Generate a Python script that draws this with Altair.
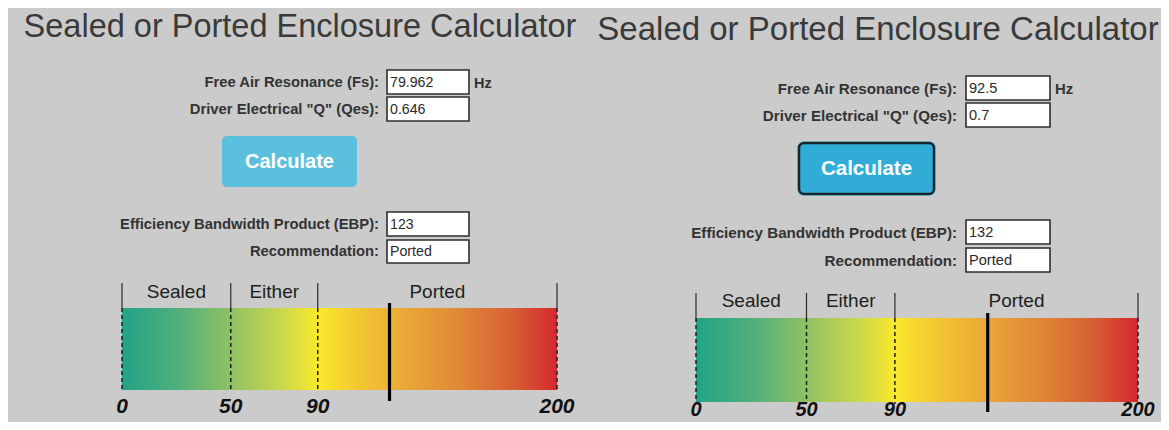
import altair as alt
import pandas as pd

# ---------------- data ----------------
TITLE = "Sealed or Ported Enclosure Calculator"
INPUT_LABELS = ["Free Air Resonance (Fs):", 'Driver Electrical "Q" (Qes):']
OUTPUT_LABELS = ["Efficiency Bandwidth Product (EBP):", "Recommendation:"]
UNIT_LABEL = "Hz"
BUTTON_LABEL = "Calculate"
FS_VALUES = ["79.962", "92.5"]
QES_VALUES = ["0.646", "0.7"]
EBP_VALUES = [123, 132]
RECOMMENDATIONS = ["Ported", "Ported"]
ZONE_NAMES = ["Sealed", "Either", "Ported"]
ZONE_BOUNDS = [0, 50, 90, 200]
TICK_LABELS = ["0", "50", "90", "200"]

# ---------------- layout (screenshot pixels) ----------------
W, H = 1153, 414
OFF = 8
FONT = "Liberation Sans"
BG = "#cbcbcb"

PANELS = [
    dict(title_x=300, title_y=27, title_size=32.5, label_right=379, box_x=(387, 469),
         boxes_in=[(70, 94), (97, 121)], boxes_out=[(212, 236), (240, 263)], font=14.8,
         button=(222, 357, 136, 187), button_size=20, focus=False,
         bar_x=(122, 557), bar_y=(308, 390), rule_top=283, marker=(303, 401),
         zone_y=292, tick_y=407, tick_size=21),
    dict(title_x=878, title_y=30, title_size=33, label_right=957, box_x=(966, 1050),
         boxes_in=[(76, 100), (103, 127)], boxes_out=[(220, 244), (248, 272)], font=15.2,
         button=(799, 934, 143, 194), button_size=20.5, focus=True,
         bar_x=(696, 1138), bar_y=(318, 402), rule_top=293, marker=(313, 412),
         zone_y=301, tick_y=410, tick_size=20),
]

GRADIENT = alt.LinearGradient(
    gradient="linear", x1=0, x2=1, y1=0, y2=0,
    stops=[
        alt.GradientStop(offset=0.0, color="#21a386"),
        alt.GradientStop(offset=0.13, color="#52af7c"),
        alt.GradientStop(offset=0.25, color="#8fc263"),
        alt.GradientStop(offset=0.37, color="#cbd84c"),
        alt.GradientStop(offset=0.45, color="#fbe82b"),
        alt.GradientStop(offset=0.55, color="#f2c532"),
        alt.GradientStop(offset=0.66, color="#e9a636"),
        alt.GradientStop(offset=0.78, color="#df8737"),
        alt.GradientStop(offset=0.9, color="#d75e33"),
        alt.GradientStop(offset=1.0, color="#d3282e"),
    ],
)


def px(v):
    return v - OFF


def PX(f):
    return alt.X(f"{f}:Q", scale=None, axis=None)


def PY(f):
    return alt.Y(f"{f}:Q", scale=None, axis=None)


layers = []
for i, P in enumerate(PANELS):
    # ---------- UI text ----------
    title_df = pd.DataFrame({"t": [TITLE], "x": [px(P["title_x"])], "y": [px(P["title_y"])]})
    layers.append(alt.Chart(title_df).mark_text(font=FONT, fontSize=P["title_size"], color="#3a3a3a",
                                                 align="center", baseline="middle")
                  .encode(x=PX("x"), y=PY("y"), text="t:N"))

    boxes = P["boxes_in"] + P["boxes_out"]
    labels = INPUT_LABELS + OUTPUT_LABELS
    values = [FS_VALUES[i], QES_VALUES[i], str(EBP_VALUES[i]), RECOMMENDATIONS[i]]
    lab_df = pd.DataFrame({"t": labels,
                           "x": [px(P["label_right"])] * 4,
                           "y": [px((a + b) / 2 + 0.5) for a, b in boxes]})
    layers.append(alt.Chart(lab_df).mark_text(font=FONT, fontSize=P["font"], fontWeight="bold",
                                               color="#333333", align="right", baseline="middle")
                  .encode(x=PX("x"), y=PY("y"), text="t:N"))

    box_df = pd.DataFrame({"x": [px(P["box_x"][0])] * 4, "x2": [px(P["box_x"][1])] * 4,
                           "y": [px(a) for a, b in boxes], "y2": [px(b) for a, b in boxes]})
    layers.append(alt.Chart(box_df).mark_rect(fill="white", stroke="#2e2e2e", strokeWidth=1.6)
                  .encode(x=PX("x"), x2="x2:Q", y=PY("y"), y2="y2:Q"))

    val_df = pd.DataFrame({"t": values, "x": [px(P["box_x"][0] + 3)] * 4,
                           "y": [px((a + b) / 2 + 0.5) for a, b in boxes]})
    layers.append(alt.Chart(val_df).mark_text(font=FONT, fontSize=P["font"] - 0.6, color="#2a2a2a",
                                               align="left", baseline="middle")
                  .encode(x=PX("x"), y=PY("y"), text="t:N"))

    hz_df = pd.DataFrame({"t": [UNIT_LABEL], "x": [px(P["box_x"][1] + 5)],
                          "y": [px((P["boxes_in"][0][0] + P["boxes_in"][0][1]) / 2 + 2)]})
    layers.append(alt.Chart(hz_df).mark_text(font=FONT, fontSize=P["font"] - 0.3, fontWeight="bold",
                                              color="#333333", align="left", baseline="middle")
                  .encode(x=PX("x"), y=PY("y"), text="t:N"))

    bx0, bx1, by0, by1 = P["button"]
    btn_df = pd.DataFrame({"x": [px(bx0)], "x2": [px(bx1)], "y": [px(by0)], "y2": [px(by1)]})
    if P["focus"]:
        glow_df = pd.DataFrame({"x": [px(bx0 - 2)], "x2": [px(bx1 + 2)], "y": [px(by0 - 2)], "y2": [px(by1 + 2)]})
        layers.append(alt.Chart(glow_df).mark_rect(fill="#8ccbe0", cornerRadius=6)
                      .encode(x=PX("x"), x2="x2:Q", y=PY("y"), y2="y2:Q"))
        layers.append(alt.Chart(btn_df).mark_rect(fill="#31acd6", stroke="#17252c", strokeWidth=2.5,
                                                   cornerRadius=5)
                      .encode(x=PX("x"), x2="x2:Q", y=PY("y"), y2="y2:Q"))
    else:
        layers.append(alt.Chart(btn_df).mark_rect(fill="#5bc0de", cornerRadius=5)
                      .encode(x=PX("x"), x2="x2:Q", y=PY("y"), y2="y2:Q"))
    bt_df = pd.DataFrame({"t": [BUTTON_LABEL], "x": [px((bx0 + bx1) / 2)], "y": [px((by0 + by1) / 2 + 0.5)]})
    layers.append(alt.Chart(bt_df).mark_text(font=FONT, fontSize=P["button_size"], fontWeight="bold",
                                              color="white", align="center", baseline="middle")
                  .encode(x=PX("x"), y=PY("y"), text="t:N"))

    # ---------- EBP bar (own linear scale per panel) ----------
    x0, x1 = P["bar_x"]
    k = (x1 - x0) / (ZONE_BOUNDS[-1] - ZONE_BOUNDS[0])
    d0 = ZONE_BOUNDS[0] - px(x0) / k
    dom = [d0, d0 + W / k]
    f = f"ebp{i}"

    def EX(field, dom=dom):
        return alt.X(f"{field}:Q", scale=alt.Scale(domain=dom, nice=False, zero=False), axis=None)

    bar_df = pd.DataFrame({f: [ZONE_BOUNDS[0]], "end": [ZONE_BOUNDS[-1]]})
    bnd_df = pd.DataFrame({f: ZONE_BOUNDS, "lab": TICK_LABELS})
    zone_df = pd.DataFrame({f: [(ZONE_BOUNDS[j] + ZONE_BOUNDS[j + 1]) / 2 for j in range(len(ZONE_NAMES))],
                            "name": ZONE_NAMES})
    mk_df = pd.DataFrame({f: [EBP_VALUES[i]]})
    t, b = P["bar_y"]

    g = alt.layer(
        alt.Chart(bar_df).mark_rect(fill=GRADIENT)
        .encode(x=EX(f), x2="end:Q", y=alt.value(px(t)), y2=alt.value(px(b))),
        alt.Chart(bnd_df).mark_rule(color="#2a2a2a", strokeWidth=1.2)
        .encode(x=EX(f), y=alt.value(px(P["rule_top"])), y2=alt.value(px(t))),
        alt.Chart(bnd_df).mark_rule(color="#1e1e1e", strokeWidth=1.5, strokeDash=[4, 3])
        .encode(x=EX(f), y=alt.value(px(t)), y2=alt.value(px(b + 2))),
        alt.Chart(zone_df).mark_text(font=FONT, fontSize=19, color="#1e1e1e", align="center", baseline="middle")
        .encode(x=EX(f), y=alt.value(px(P["zone_y"])), text="name:N"),
        alt.Chart(bnd_df).mark_text(font=FONT, fontSize=P["tick_size"], fontWeight="bold", fontStyle="italic",
                                    color="#111111", align="center", baseline="middle")
        .encode(x=EX(f), y=alt.value(px(P["tick_y"])), text="lab:N"),
        alt.Chart(mk_df).mark_rule(color="black", strokeWidth=3.2)
        .encode(x=EX(f), y=alt.value(px(P["marker"][0])), y2=alt.value(px(P["marker"][1]))),
    )
    layers.append(g)

chart = (
    alt.layer(*layers)
    .resolve_scale(x="independent")
    .properties(width=W, height=H, padding=0, autosize=alt.AutoSizeParams(type="none"),
                background=BG)
    .configure_view(strokeWidth=0)
)

chart.save("out.html", embed_options={"renderer": "svg", "actions": False})
